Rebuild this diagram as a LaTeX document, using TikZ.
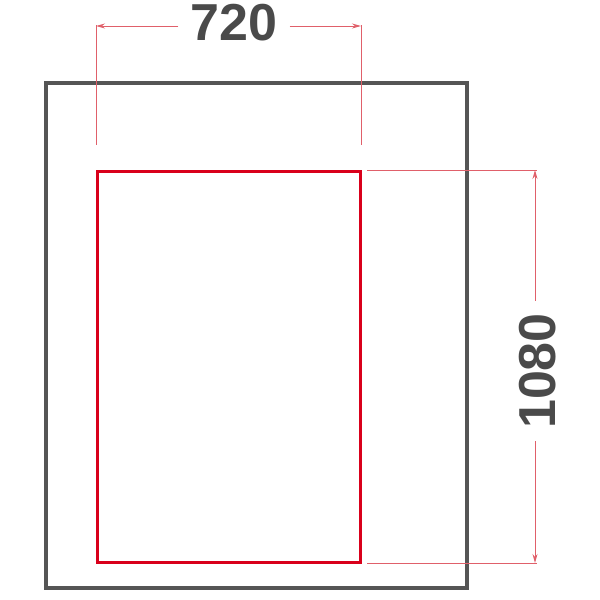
\documentclass[tikz,border=0pt]{standalone}
\usepackage{fontspec}
\setmainfont{Liberation Sans}
\usetikzlibrary{arrows.meta}
\definecolor{frame}{HTML}{555555}
\definecolor{redbox}{HTML}{D9001B}
\definecolor{dimred}{HTML}{E0606A}
\definecolor{dimtext}{HTML}{4A4A4A}
\tikzset{
  outerbox/.style={draw=frame,line width=4pt},
  innerbox/.style={draw=redbox,line width=3pt},
  dimline/.style={draw=dimred,line width=1pt},
  dimarrow/.style={dimline,-{Stealth[length=9pt,width=5pt]}},
  dimlabel/.style={text=dimtext,font=\fontsize{52}{52}\selectfont\bfseries,inner sep=0pt}
}
\begin{document}
\begin{tikzpicture}[x=1pt,y=-1pt]
\useasboundingbox (0,0) rectangle (600,600);
\draw[outerbox] (46,83) rectangle (467,588);
\draw[innerbox] (97,171) rectangle (360,562);
% top dimension
\node[dimlabel] (w) at (234,23) {720};
\coordinate (wl) at (96,26);
\coordinate (wr) at (361,26);
\draw[dimline] (96,25) -- (96,145);
\draw[dimline] (361,25) -- (361,145);
\draw[dimarrow] (w.west|-wl) ++(-12,0) -- (wl);
\draw[dimarrow] (w.east|-wr) ++(12,0) -- (wr);
% right dimension
\node[dimlabel,rotate=90] (h) at (538,371) {1080};
\coordinate (ht) at (535,170);
\coordinate (hb) at (535,563);
\draw[dimline] (367,170) -- (537,170);
\draw[dimline] (367,563) -- (537,563);
\draw[dimarrow] (h.east-|ht) ++(0,-12) -- (ht);
\draw[dimarrow] (h.west-|hb) ++(0,12) -- (hb);
\end{tikzpicture}
\end{document}
